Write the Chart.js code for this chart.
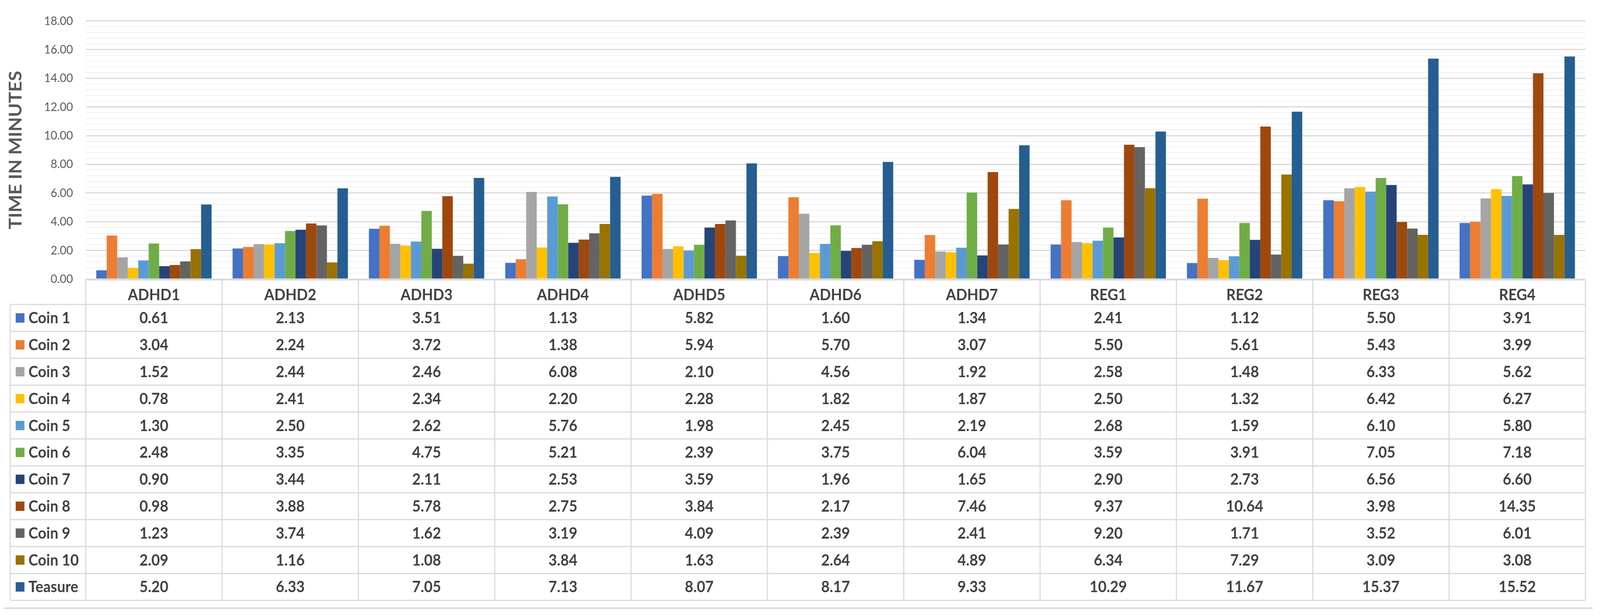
<!DOCTYPE html>
<html>
<head>
<meta charset="utf-8">
<script src="https://cdn.jsdelivr.net/npm/chart.js@4.4.1/dist/chart.umd.min.js"></script>
<style>
  html, body { margin: 0; padding: 0; background: #ffffff; overflow: hidden; width: 100%; height: 100%; }
  canvas { display: block; }
</style>
</head>
<body>
<canvas id="c" width="4386" height="1576" style="width:100vw;height:100vh;"></canvas>
<script>
// ---- Data ----
const categories = ["ADHD1", "ADHD2", "ADHD3", "ADHD4", "ADHD5", "ADHD6", "ADHD7", "REG1", "REG2", "REG3", "REG4"];
const seriesNames = ["Coin 1", "Coin 2", "Coin 3", "Coin 4", "Coin 5", "Coin 6", "Coin 7", "Coin 8", "Coin 9", "Coin 10", "Teasure"];
const coin1  = [0.61, 2.13, 3.51, 1.13, 5.82, 1.60, 1.34, 2.41, 1.12, 5.50, 3.91];
const coin2  = [3.04, 2.24, 3.72, 1.38, 5.94, 5.70, 3.07, 5.50, 5.61, 5.43, 3.99];
const coin3  = [1.52, 2.44, 2.46, 6.08, 2.10, 4.56, 1.92, 2.58, 1.48, 6.33, 5.62];
const coin4  = [0.78, 2.41, 2.34, 2.20, 2.28, 1.82, 1.87, 2.50, 1.32, 6.42, 6.27];
const coin5  = [1.30, 2.50, 2.62, 5.76, 1.98, 2.45, 2.19, 2.68, 1.59, 6.10, 5.80];
const coin6  = [2.48, 3.35, 4.75, 5.21, 2.39, 3.75, 6.04, 3.59, 3.91, 7.05, 7.18];
const coin7  = [0.90, 3.44, 2.11, 2.53, 3.59, 1.96, 1.65, 2.90, 2.73, 6.56, 6.60];
const coin8  = [0.98, 3.88, 5.78, 2.75, 3.84, 2.17, 7.46, 9.37, 10.64, 3.98, 14.35];
const coin9  = [1.23, 3.74, 1.62, 3.19, 4.09, 2.39, 2.41, 9.20, 1.71, 3.52, 6.01];
const coin10 = [2.09, 1.16, 1.08, 3.84, 1.63, 2.64, 4.89, 6.34, 7.29, 3.09, 3.08];
const teasure = [5.20, 6.33, 7.05, 7.13, 8.07, 8.17, 9.33, 10.29, 11.67, 15.37, 15.52];
const seriesValues = [coin1, coin2, coin3, coin4, coin5, coin6, coin7, coin8, coin9, coin10, teasure];
const seriesColors = ["#4472C4", "#ED7D31", "#A5A5A5", "#FFC000", "#5B9BD5", "#70AD47", "#264478", "#9E480E", "#636363", "#997300", "#255E91"];
const yMin = 0, yMax = 18, yMajorStep = 2, yMinorStep = 0.4;
const yTitle = "TIME IN MINUTES";

// ---- Layout constants ----
const FONT = "Lato, 'Open Sans', 'DejaVu Sans', sans-serif";
const TEXT_COLOR = "#404040";
const LINE_COLOR = "#d9d9d9";
const HEADER_TOP = 716;
const ROWS_TOP = 779;
const TABLE_BOTTOM = 1536;
const TABLE_LEFT = 28;

function isMajor(v) {
  const r = v / yMajorStep;
  return Math.abs(r - Math.round(r)) < 1e-6;
}

const tablePlugin = {
  id: 'dataTable',
  afterDraw(chart) {
    const ctx = chart.ctx;
    const ca = chart.chartArea;
    const xs = chart.scales.x;
    const n = categories.length;
    const catW = (ca.right - ca.left) / n;
    const rowH = (TABLE_BOTTOM - ROWS_TOP) / seriesNames.length;
    ctx.save();
    ctx.strokeStyle = LINE_COLOR;
    ctx.lineWidth = 3;
    ctx.beginPath();
    ctx.moveTo(ca.left, HEADER_TOP);
    ctx.lineTo(ca.right, HEADER_TOP);
    ctx.stroke();
    for (let k = 0; k <= seriesNames.length; k++) {
      const y = ROWS_TOP + k * rowH;
      ctx.beginPath();
      ctx.moveTo(TABLE_LEFT, y);
      ctx.lineTo(ca.right, y);
      ctx.stroke();
    }
    ctx.beginPath();
    ctx.moveTo(TABLE_LEFT, ROWS_TOP);
    ctx.lineTo(TABLE_LEFT, TABLE_BOTTOM);
    ctx.stroke();
    for (let i = 0; i <= n; i++) {
      const x = ca.left + i * catW;
      ctx.beginPath();
      ctx.moveTo(x, HEADER_TOP);
      ctx.lineTo(x, TABLE_BOTTOM);
      ctx.stroke();
    }
    ctx.lineWidth = 4;
    ctx.beginPath();
    ctx.moveTo(12, 1556);
    ctx.lineTo(4366, 1556);
    ctx.stroke();

    ctx.font = "bold 40px " + FONT;
    ctx.textBaseline = 'middle';
    for (let s = 0; s < seriesNames.length; s++) {
      const yc = ROWS_TOP + (s + 0.5) * rowH;
      ctx.fillStyle = seriesColors[s];
      ctx.fillRect(43, yc - 12, 24, 24);
      ctx.fillStyle = TEXT_COLOR;
      ctx.textAlign = 'left';
      ctx.fillText(seriesNames[s], 78, yc + 1);
      ctx.textAlign = 'center';
      for (let i = 0; i < n; i++) {
        const xc = xs.getPixelForValue(i);
        ctx.fillText(seriesValues[s][i].toFixed(2), xc, yc + 1);
      }
    }
    ctx.restore();
  }
};

const datasets = seriesNames.map((name, s) => ({
  label: name,
  data: seriesValues[s],
  backgroundColor: seriesColors[s],
  borderWidth: 0,
  categoryPercentage: 0.846,
  barPercentage: 1.0
}));

new Chart(document.getElementById('c'), {
  type: 'bar',
  data: { labels: categories, datasets: datasets },
  plugins: [tablePlugin],
  options: {
    responsive: false,
    devicePixelRatio: 1,
    animation: false,
    layout: { padding: { top: 34, right: 40, left: 0, bottom: 0 } },
    plugins: {
      legend: { display: false },
      tooltip: { enabled: false },
      title: { display: false }
    },
    scales: {
      x: {
        grid: { display: false },
        border: { display: false },
        ticks: {
          font: { family: FONT, size: 40, weight: 'bold' },
          color: TEXT_COLOR,
          padding: 9,
          maxRotation: 0,
          autoSkip: false
        },
        afterFit(scale) { scale.height = 1576 - 714; }
      },
      y: {
        min: yMin,
        max: yMax,
        border: { display: false },
        grid: {
          drawTicks: false,
          color: (c) => isMajor(c.tick.value) ? '#d9d9d9' : '#f0f0f0',
          lineWidth: (c) => isMajor(c.tick.value) ? 3 : 2
        },
        ticks: {
          stepSize: yMinorStep,
          autoSkip: false,
          padding: 35,
          color: '#595959',
          font: { family: FONT, size: 31 },
          callback: (v) => isMajor(v) ? Number(v).toFixed(2) : ''
        },
        title: {
          display: true,
          text: yTitle,
          color: '#595959',
          font: { family: FONT, size: 48, weight: 'bold' },
          padding: { top: 15, bottom: 0 }
        },
        afterFit(scale) { scale.width = 235; }
      }
    }
  }
});
</script>
</body>
</html>
